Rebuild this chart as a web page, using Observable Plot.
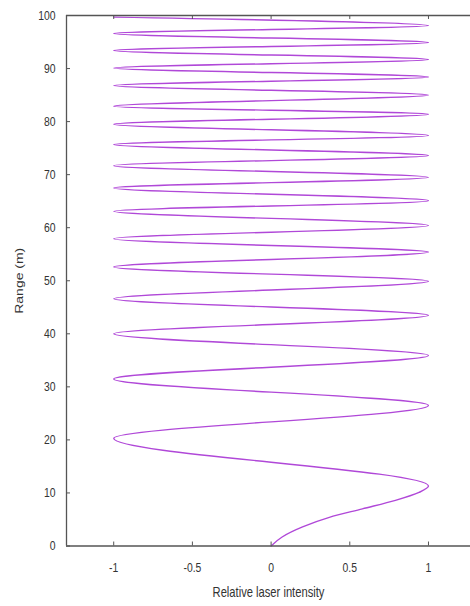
<!DOCTYPE html>
<html><head><meta charset="utf-8">
<script src="https://cdn.jsdelivr.net/npm/d3@7"></script>
<script src="https://cdn.jsdelivr.net/npm/@observablehq/plot@0.6"></script>
<style>html,body{margin:0;background:#fff;overflow:hidden;width:470px;height:606px}#chart svg{overflow:hidden}</style>
</head><body><div id="chart"></div>
<script>
const xTicks = [-1, -0.5, 0, 0.5, 1];
const yTicks = [0, 10, 20, 30, 40, 50, 60, 70, 80, 90, 100];
// Range (m): start point, points read along the first rise, then every turning point
const rangeM = [0, 1.7, 3.6, 5.4, 7.0, 8.6, 10.1, 11.3, 20.3, 26.5, 31.5, 35.9, 40.0, 43.5, 46.6, 49.9, 52.6, 55.4, 57.9, 60.4, 63.1, 65.1, 67.5, 69.5, 71.7, 73.6, 75.7, 77.4, 79.5, 81.4, 82.9, 85.0, 86.8, 88.4, 90.1, 91.7, 93.4, 94.9, 96.6, 98.1, 99.7];
// Relative laser intensity at those ranges
const intensity = [0, 0.07, 0.2, 0.37, 0.58, 0.79, 0.94, 1, -1, 1, -1, 1, -1, 1, -1, 1, -1, 1, -1, 1, -1, 1, -1, 1, -1, 1, -1, 1, -1, 1, -1, 1, -1, 1, -1, 1, -1, 1, -1, 1, -1];

const data = rangeM.map((r, i) => ({range: r, intensity: intensity[i]}));

const plot = Plot.plot({
  width: 470, height: 606,
  marginLeft: 66, marginRight: 0, marginTop: 15, marginBottom: 60.5,
  style: {fontFamily: "'Liberation Sans', Arial, sans-serif", fontSize: "13px", color: "#333", background: "#fff"},
  x: {domain: [-1.3, 1.267], ticks: xTicks, tickFormat: d => String(d), tickSize: 0, tickPadding: 17,
      label: "Relative laser intensity", labelAnchor: "center", labelOffset: 50.5, labelArrow: "none"},
  y: {domain: [0, 100], ticks: yTicks, tickFormat: d => String(d), tickSize: 0, tickPadding: 11,
      label: "Range (m)", labelAnchor: "center", labelOffset: 51, labelArrow: "none"},
  marks: [
    Plot.line(data, {x: "intensity", y: "range", curve: "monotone-y", stroke: "#b048d8", strokeWidth: 1.4}),
    Plot.ruleX(xTicks, {y1: 0, y2: 0.75, stroke: "#555"}),
    Plot.ruleX(xTicks, {y1: 100, y2: 99.25, stroke: "#555"}),
    Plot.ruleY(yTicks, {x1: -1.3, x2: -1.2746, stroke: "#555"}),
    Plot.ruleX([-1.3], {stroke: "#555", strokeWidth: 1.3}),
    Plot.ruleY([0, 100], {stroke: "#555", strokeWidth: 1.3})
  ]
});

plot.querySelectorAll('g[aria-label$="axis label"] text').forEach(t => t.setAttribute("font-size", "14"));
plot.querySelectorAll("text").forEach(t => {
  let tr = t.getAttribute("transform") || "";
  const x = +(t.getAttribute("x") || 0), y = +(t.getAttribute("y") || 0);
  if (x || y) { t.removeAttribute("x"); t.removeAttribute("y"); tr += ` translate(${x},${y})`; }
  const rotated = /rotate/.test(tr);
  t.setAttribute("transform", tr + (rotated ? " scale(1,0.8)" : " scale(0.8,1)"));
});

document.getElementById("chart").appendChild(plot);
</script>
</body></html>
